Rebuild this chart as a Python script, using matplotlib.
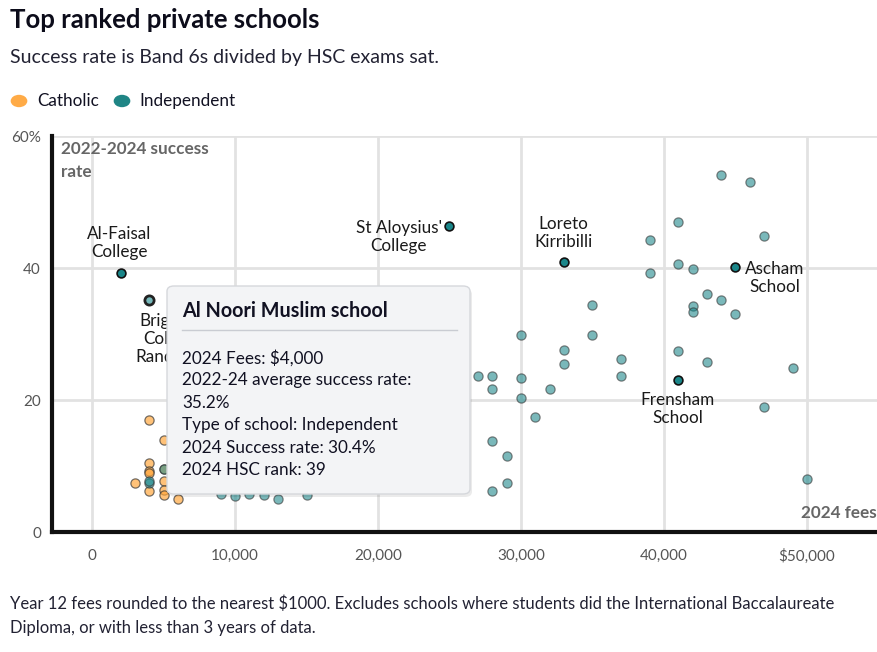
import matplotlib
matplotlib.use("Agg")
import matplotlib.pyplot as plt
from matplotlib.patches import FancyBboxPatch, Rectangle
from matplotlib.lines import Line2D

plt.rcParams['font.family'] = ['Lato', 'DejaVu Sans']

# ---------------- data ----------------
catholic_fees = [4000, 5000, 4000, 4000, 4000, 3000, 5000, 4000, 5000, 5000, 6000, 5000]
catholic_rate = [17.0, 14.0, 10.4, 9.3, 8.9, 7.5, 7.8, 6.2, 6.4, 5.6, 5.0, 9.6]

indep_fees = [4000, 4000, 5000, 9000, 10000, 11000, 12000, 13000, 15000,
              27000, 28000, 28000, 30000, 30000, 30000, 31000, 32000, 33000, 33000,
              35000, 35000, 37000, 37000, 28000, 29000, 29000, 28000,
              41000, 43000, 49000, 47000, 50000,
              44000, 46000, 41000, 39000, 47000, 41000, 42000, 39000, 43000, 44000,
              42000, 42000, 45000]
indep_rate = [7.5, 7.8, 9.6, 5.7, 5.5, 5.7, 5.6, 5.0, 5.6,
              23.7, 23.7, 21.6, 23.4, 20.3, 29.9, 17.5, 21.7, 27.6, 25.5,
              29.9, 34.4, 26.2, 23.6, 13.8, 11.5, 7.5, 6.2,
              27.4, 25.8, 24.9, 18.9, 8.0,
              54.1, 53.0, 47.0, 44.2, 44.8, 40.6, 39.9, 39.2, 36.0, 35.1,
              34.3, 33.4, 33.0]

label_names = ["Al-Faisal\nCollege", "St Aloysius'\nCollege", "Loreto\nKirribilli",
               "Ascham\nSchool", "Frensham\nSchool"]
label_fees = [2000, 25000, 33000, 45000, 41000]
label_rate = [39.3, 46.4, 40.9, 40.2, 23.1]

hover_name = "Al Noori Muslim school"
hover_fees = 4000
hover_rate = 35.2
hover_lines = ["2024 Fees: $4,000",
               "2022-24 average success rate:",
               "35.2%",
               "Type of school: Independent",
               "2024 Success rate: 30.4%",
               "2024 HSC rank: 39"]

x_ticks = [0, 10000, 20000, 30000, 40000, 50000]
x_tick_labels = ["0", "10,000", "20,000", "30,000", "40,000", "$50,000"]
y_ticks = [0, 20, 40, 60]
y_tick_labels = ["0", "20", "40", "60%"]

# ---------------- figure ----------------
W, H = 877, 652
fig = plt.figure(figsize=(W / 100, H / 100), dpi=100)

def fx(px):
    return px / W

def fy(py):
    return 1 - py / H

ax = fig.add_axes([fx(52), fy(532), fx(877) - fx(52), fy(136) - fy(532)])
ax.set_xlim(-2800, 54900)
ax.set_ylim(0, 60)

ORANGE = "#ffa53a"
TEAL = "#1a8689"
EDGE = "#333333"

ax.scatter(catholic_fees, catholic_rate, s=44, color=ORANGE, alpha=0.68,
           edgecolors=EDGE, linewidths=0.9, zorder=3)
ax.scatter(indep_fees, indep_rate, s=44, color=TEAL, alpha=0.58,
           edgecolors=EDGE, linewidths=0.9, zorder=3)
ax.scatter(label_fees, label_rate, s=40, color=TEAL, alpha=1.0,
           edgecolors="#111111", linewidths=1.2, zorder=4)
ax.scatter([hover_fees], [hover_rate], s=44, color="#76b8ba", alpha=1.0,
           edgecolors="#222222", linewidths=2.0, zorder=4)

# grid & spines
ax.set_xticks(x_ticks)
ax.set_xticklabels(x_tick_labels)
ax.set_yticks(y_ticks)
ax.set_yticklabels(y_tick_labels)
ax.grid(True, color="#e2e2e2", linewidth=2, zorder=0)
ax.set_axisbelow(True)
for s in ["top", "right"]:
    ax.spines[s].set_visible(False)
ax.spines["left"].set_linewidth(3)
ax.spines["bottom"].set_linewidth(3)
ax.spines["left"].set_color("#111111")
ax.spines["bottom"].set_color("#111111")
ax.tick_params(axis="both", length=0, labelsize=11, labelcolor="#555555")
ax.tick_params(axis="x", pad=12)
ax.tick_params(axis="y", pad=8)

# axis titles inside
ax.text(fx(61), fy(149), "2022-2024 success", transform=fig.transFigure,
        fontsize=12.3, fontweight="bold", color="#666666", va="center", ha="left")
ax.text(fx(61), fy(172), "rate", transform=fig.transFigure,
        fontsize=12.3, fontweight="bold", color="#666666", va="center", ha="left")
ax.text(fx(877), fy(513), "2024 fees", transform=fig.transFigure,
        fontsize=12.3, fontweight="bold", color="#666666", va="center", ha="right")

# point labels (pixel placement)
label_pos = [(119, 243, "center"), (442, 237, "right"), (563, 233, "center"),
             (745, 278, "left"), (678, 409, "center")]
for name, (px, py, ha) in zip(label_names, label_pos):
    ax.text(fx(px), fy(py), name, transform=fig.transFigure, fontsize=12.3,
            color="#1a1a1a", ha=ha, va="center", linespacing=1.15, zorder=5,
            multialignment="center")

# label partly hidden behind the tooltip (clipped at the tooltip's left edge)
brighton = ax.text(fx(172), fy(339), "Brighton\nCollege\nRandwick",
                   transform=fig.transFigure, fontsize=12.3, color="#1a1a1a",
                   ha="center", va="center", linespacing=1.15, zorder=5)
clip_rect = Rectangle((fx(100), fy(380)), fx(168) - fx(100), fy(300) - fy(380),
                      transform=fig.transFigure, facecolor="none", edgecolor="none")
brighton.set_clip_path(clip_rect)

# tooltip
shadow = FancyBboxPatch((fx(169), fy(497)), fx(470) - fx(167), fy(286) - fy(494),
                        boxstyle="round,pad=0,rounding_size=0.008",
                        transform=fig.transFigure, facecolor="#000000", alpha=0.08,
                        edgecolor="none", zorder=9, clip_on=False)
ax.add_patch(shadow)
box = FancyBboxPatch((fx(167), fy(494)), fx(470) - fx(167), fy(286) - fy(494),
                     boxstyle="round,pad=0,rounding_size=0.008",
                     transform=fig.transFigure, facecolor="#f3f4f6",
                     edgecolor="#d6d8dc", linewidth=1, zorder=10, clip_on=False)
ax.add_patch(box)
ax.text(fx(182), fy(311), hover_name, transform=fig.transFigure, fontsize=14.2,
        fontweight="bold", color="#111122", ha="left", va="center", zorder=11)
ax.add_line(Line2D([fx(182), fx(457)], [fy(330), fy(330)], transform=fig.transFigure,
                   color="#c9ccd2", linewidth=1, zorder=11, clip_on=False))
for i, line in enumerate(hover_lines):
    ax.text(fx(182), fy(358 + i * 22.4), line, transform=fig.transFigure,
            fontsize=12.3, color="#111122", ha="left", va="center", zorder=11)

# header
fig.text(fx(10), fy(20), "Top ranked private schools", fontsize=18.5,
         fontweight="bold", color="#0c0c1a", ha="left", va="center")
fig.text(fx(10), fy(58), "Success rate is Band 6s divided by HSC exams sat.",
         fontsize=14, color="#222233", ha="left", va="center")
fig.patches.append(matplotlib.patches.Circle((fx(19), fy(101)), 0.0095,
                   transform=fig.transFigure, facecolor="#ffab47", edgecolor="none"))
fig.text(fx(37), fy(101), "Catholic", fontsize=12.3, color="#111122",
         ha="left", va="center")
fig.patches.append(matplotlib.patches.Circle((fx(122), fy(101)), 0.0095,
                   transform=fig.transFigure, facecolor="#1f8585", edgecolor="none"))
fig.text(fx(139), fy(101), "Independent", fontsize=12.3, color="#111122",
         ha="left", va="center")

# footer
fig.text(fx(10), fy(604),
         "Year 12 fees rounded to the nearest $1000. Excludes schools where students did the International Baccalaureate",
         fontsize=12, color="#222233", ha="left", va="center")
fig.text(fx(10), fy(628), "Diploma, or with less than 3 years of data.",
         fontsize=12, color="#222233", ha="left", va="center")

fig.savefig("out.png", dpi=100)
